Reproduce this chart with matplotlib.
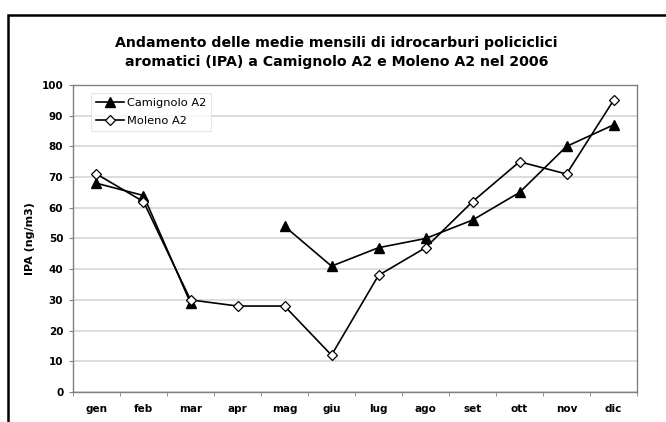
import numpy as np
import matplotlib.pyplot as plt
from matplotlib.patches import Rectangle

mesi = ["gen", "feb", "mar", "apr", "mag", "giu", "lug", "ago", "set", "ott", "nov", "dic"]
camignolo = [68, 64, 29, np.nan, 54, 41, 47, 50, 56, 65, 80, 87]
moleno = [71, 62, 30, 28, 28, 12, 38, 47, 62, 75, 71, 95]
yticks = list(range(0, 101, 10))

fig = plt.figure(figsize=(6.66, 4.22), dpi=100)
ax = fig.add_axes([0.1096, 0.0711, 0.8469, 0.7275])

x = np.arange(len(mesi))
ax.plot(x, camignolo, color="black", lw=1.2, marker="^", ms=6.5,
        mfc="black", mec="black", label="Camignolo A2", zorder=3)
ax.plot(x, moleno, color="black", lw=1.2, marker="D", ms=5,
        mfc="white", mec="black", mew=0.9, label="Moleno A2", zorder=4)

ax.set_xlim(-0.5, len(mesi) - 0.5)
ax.set_ylim(0, 100)
ax.set_yticks(yticks)
ax.set_yticklabels([str(v) for v in yticks], fontsize=7.5, fontweight="bold")
ax.set_xticks(x)
ax.set_xticklabels(mesi, fontsize=7.5, fontweight="bold")
ax.tick_params(axis="x", length=0, pad=9)
ax.tick_params(axis="y", length=3, color="#808080", pad=4)
# category boundary ticks below the x axis
ax.set_xticks(np.arange(-0.5, len(mesi), 1), minor=True)
ax.tick_params(axis="x", which="minor", length=3, color="#808080", direction="out")

ax.yaxis.grid(True, color="#d9d9d9", lw=1.3)
ax.set_axisbelow(True)
for s in ax.spines.values():
    s.set_color("#808080")
    s.set_linewidth(1.0)

ax.set_ylabel("IPA (ng/m3)", fontsize=8, fontweight="bold", labelpad=5)

fig.text(0.505, 0.876, "Andamento delle medie mensili di idrocarburi policiclici\n"
         "aromatici (IPA) a Camignolo A2 e Moleno A2 nel 2006",
         ha="center", va="center", fontsize=10.2, fontweight="bold", linespacing=1.4)

leg = ax.legend(loc="upper left", bbox_to_anchor=(0.032, 0.974), fontsize=8.2,
                frameon=True, fancybox=False, handlelength=2.4, handletextpad=0.3,
                borderpad=0.45, labelspacing=0.65, borderaxespad=0)
leg.get_frame().set_edgecolor("#e0e0e0")
leg.get_frame().set_linewidth(0.8)

# outer frame around the chart
fig.patches.append(Rectangle((7.5 / 666, -0.2), 1.2, 1.2 - 14.7 / 422,
                             transform=fig.transFigure, fill=False,
                             edgecolor="black", lw=1.8))

fig.savefig("out.png", dpi=100)
